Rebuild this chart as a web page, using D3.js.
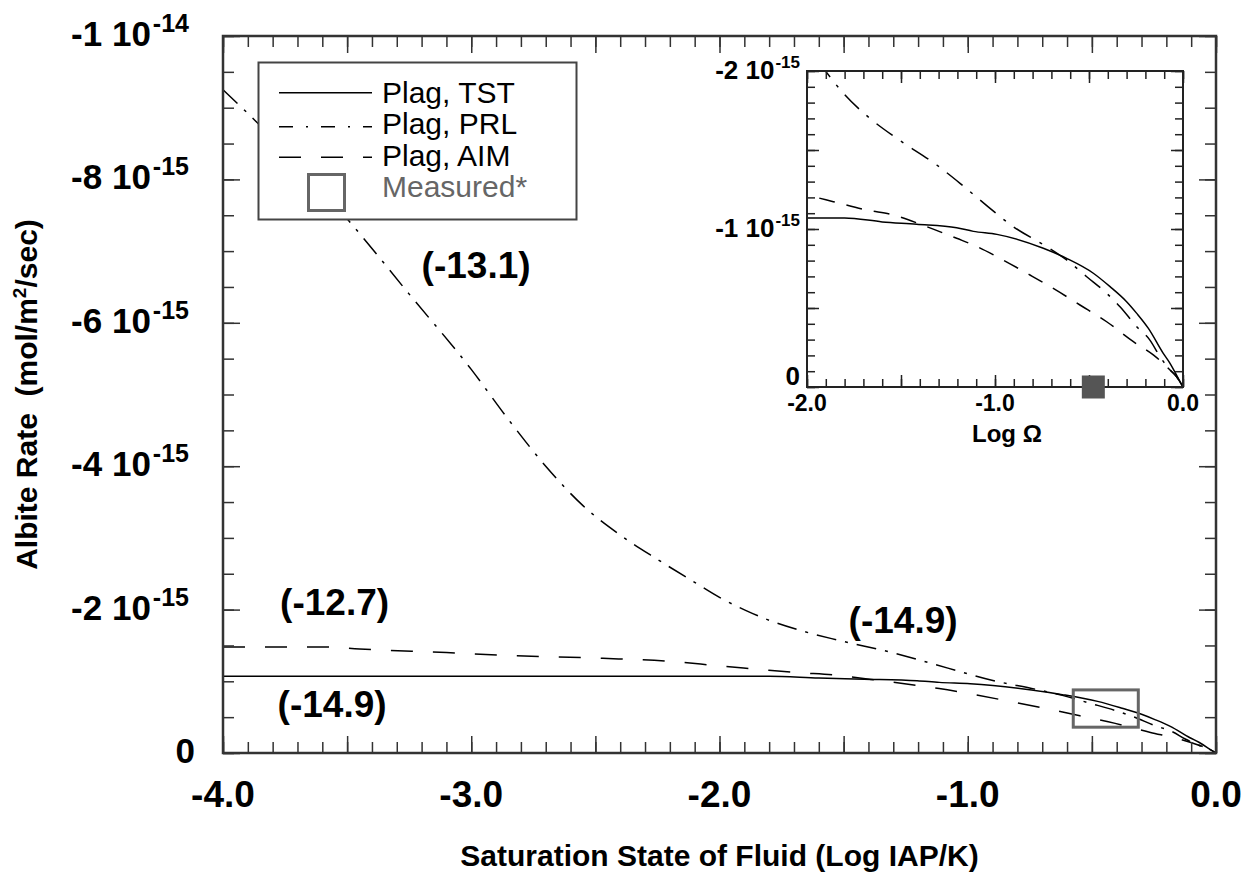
<!DOCTYPE html>
<html><head><meta charset="utf-8">
<script src="https://cdn.jsdelivr.net/npm/d3@7"></script>
<style>
html,body{margin:0;padding:0;background:#fff;}
svg{display:block;font-family:"Liberation Sans",Arial,Helvetica,sans-serif;}
</style></head>
<body><svg id="chart" width="1249" height="880"></svg>
<script>
// Rates in units of 1e-15 mol/m2/sec (negative = dissolution)
const tstX = [-4.0,-3.0,-2.0,-1.8,-1.6,-1.417,-1.204,-1.115,-0.99,-0.743,-0.619,-0.477,-0.388,-0.3,-0.246,-0.184,-0.105,-0.069,-0.016,0.0];
const tstY = [-1.07,-1.07,-1.07,-1.07,-1.045,-1.03,-1.008,-0.985,-0.966,-0.878,-0.814,-0.72,-0.635,-0.54,-0.466,-0.371,-0.213,-0.15,-0.034,0.0];

const prlX = [-4.0,-3.9,-3.75,-3.5,-3.25,-3.0,-2.85,-2.7,-2.55,-2.4,-2.25,-2.1,-2.0,-1.895,-1.807,-1.665,-1.523,-1.31,-1.186,-1.08,-0.903,-0.725,-0.619,-0.512,-0.406,-0.335,-0.246,-0.176,-0.122,-0.069,-0.034,0.0];
const prlY = [-9.25,-8.92,-8.40,-7.45,-6.40,-5.35,-4.65,-4.00,-3.45,-3.04,-2.70,-2.38,-2.17,-1.99,-1.86,-1.70,-1.574,-1.405,-1.289,-1.184,-1.015,-0.888,-0.804,-0.698,-0.593,-0.508,-0.382,-0.297,-0.192,-0.108,-0.065,0.0];

const aimX = [-4.0,-3.6,-3.45,-3.1,-2.85,-2.47,-2.21,-2.0,-1.86,-1.683,-1.541,-1.363,-1.204,-1.115,-0.973,-0.814,-0.69,-0.548,-0.406,-0.264,-0.158,-0.069,-0.034,0.0];
const aimY = [-1.48,-1.48,-1.45,-1.40,-1.36,-1.32,-1.28,-1.215,-1.173,-1.12,-1.089,-1.015,-0.941,-0.899,-0.814,-0.709,-0.624,-0.519,-0.413,-0.287,-0.203,-0.108,-0.065,0.0];

// measured range (main panel box) and measured point (inset)
const measuredX = [-0.575,-0.313];
const measuredY = [-0.88,-0.36];
const measuredPoint = {x:-0.477, y:0};

const xTickLabels = ["-4.0","-3.0","-2.0","-1.0","0.0"];
const yTickVals = [0,-2,-4,-6,-8,-10];
const yTickMant = ["0","-2 10","-4 10","-6 10","-8 10","-1 10"];
const yTickExp  = ["","-15","-15","-15","-15","-14"];
const insetYVals = [0,-1,-2];
const insetYMant = ["0","-1 10","-2 10"];
const insetYExp = ["","-15","-15"];
const insetXLabels = ["-2.0","-1.0","0.0"];

const annotations = [
  {text:"(-13.1)", x:-3.2, y:-6.62},
  {text:"(-12.7)", x:-3.77, y:-1.93},
  {text:"(-14.9)", x:-1.48, y:-1.67},
  {text:"(-14.9)", x:-3.78, y:-0.5}
];
const legendItems = [
  {label:"Plag, TST", dash:null},
  {label:"Plag, PRL", dash:"14,13,2,13"},
  {label:"Plag, AIM", dash:"22,20"},
  {label:"Measured*", dash:"box"}
];

const svg = d3.select("#chart");
const L=223, R=1216, T=36, B=753;
const x = d3.scaleLinear().domain([-4,0]).range([L,R]);
const y = d3.scaleLinear().domain([0,-10]).range([B,T]);

const series = [
  {xs:tstX, ys:tstY, dash:null, idash:null},
  {xs:prlX, ys:prlY, dash:"20,9,3,9", idash:"20,10,3,10"},
  {xs:aimX, ys:aimY, dash:"22,20", idash:"16,12"}
];

svg.append("clipPath").attr("id","mainclip").append("rect").attr("x",L).attr("y",T).attr("width",R-L).attr("height",B-T);

const line = d3.line().x(d=>x(d[0])).y(d=>y(d[1])).curve(d3.curveMonotoneX);
const gLines = svg.append("g").attr("clip-path","url(#mainclip)");
series.forEach(s=>{
  gLines.append("path").datum(s.xs.map((v,i)=>[v,s.ys[i]]))
    .attr("d",line).attr("fill","none").attr("stroke","#000").attr("stroke-width",1.5)
    .attr("stroke-dasharray",s.dash);
});
svg.append("rect").attr("x",x(measuredX[0])).attr("y",y(measuredY[0]))
  .attr("width",x(measuredX[1])-x(measuredX[0])).attr("height",y(measuredY[1])-y(measuredY[0]))
  .attr("fill","none").attr("stroke","#666").attr("stroke-width",3);

function styleAxis(g){ g.select(".domain").remove(); g.selectAll("line").attr("stroke","#333").attr("stroke-width",1.5); g.selectAll("text").remove(); }
const xMinor = d3.range(-40,1).map(d=>d/10);
const xMajor = d3.range(-8,1).map(d=>d/2);
const yMinor = d3.range(0,-10.01,-0.5);
svg.append("g").attr("transform",`translate(0,${B})`).call(d3.axisBottom(x).tickValues(xMinor).tickSize(-11)).call(styleAxis);
svg.append("g").attr("transform",`translate(0,${B})`).call(d3.axisBottom(x).tickValues(xMajor).tickSize(-17)).call(styleAxis);
svg.append("g").attr("transform",`translate(0,${T})`).call(d3.axisTop(x).tickValues(xMinor).tickSize(-11)).call(styleAxis);
svg.append("g").attr("transform",`translate(0,${T})`).call(d3.axisTop(x).tickValues(xMajor).tickSize(-17)).call(styleAxis);
svg.append("g").attr("transform",`translate(${L},0)`).call(d3.axisLeft(y).tickValues(yMinor).tickSize(-11)).call(styleAxis);
svg.append("g").attr("transform",`translate(${L},0)`).call(d3.axisLeft(y).tickValues(yTickVals).tickSize(-17)).call(styleAxis);
svg.append("g").attr("transform",`translate(${R},0)`).call(d3.axisRight(y).tickValues(yMinor).tickSize(-11)).call(styleAxis);
svg.append("g").attr("transform",`translate(${R},0)`).call(d3.axisRight(y).tickValues(yTickVals).tickSize(-17)).call(styleAxis);
svg.append("rect").attr("x",L).attr("y",T).attr("width",R-L).attr("height",B-T)
  .attr("fill","none").attr("stroke","#333").attr("stroke-width",2.5);

xTickLabels.forEach(t=>{
  svg.append("text").attr("x",x(+t)).attr("y",807).attr("text-anchor","middle")
    .attr("font-size",37).attr("font-weight","bold").text(t);
});
yTickVals.forEach((v,i)=>{
  const tx = svg.append("text").attr("x",i===0?195:189).attr("y",y(v)+10).attr("text-anchor","end")
    .attr("font-size",35).attr("font-weight","bold");
  tx.append("tspan").text(yTickMant[i]);
  if(yTickExp[i]) tx.append("tspan").attr("font-size",25).attr("dx",2).attr("dy",-14).text(yTickExp[i]);
});

svg.append("text").attr("x",(L+R)/2).attr("y",866).attr("text-anchor","middle")
  .attr("font-size",30).attr("font-weight","bold").text("Saturation State of Fluid (Log IAP/K)");
const yt = svg.append("text").attr("transform",`translate(37,${(T+B)/2}) rotate(-90)`).attr("text-anchor","middle")
  .attr("font-size",30).attr("font-weight","bold");
yt.append("tspan").text("Albite Rate\u00a0\u00a0(mol/m");
yt.append("tspan").attr("font-size",19).attr("dy",-11).text("2");
yt.append("tspan").attr("dy",11).text("/sec)");

annotations.forEach(a=>{
  svg.append("text").attr("x",x(a.x)).attr("y",y(a.y)).attr("font-size",37).attr("font-weight","bold").text(a.text);
});

const lg = svg.append("g");
lg.append("rect").attr("x",258.5).attr("y",62.5).attr("width",318).attr("height",157)
  .attr("fill","#fff").attr("stroke","#444").attr("stroke-width",2);
const rowY = [92.7,126.7,157.3,192];
const textY = [103,133.5,166,197];
legendItems.forEach((it,i)=>{
  if(it.dash==="box"){
    lg.append("rect").attr("x",308.5).attr("y",174.5).attr("width",36).attr("height",36)
      .attr("fill","none").attr("stroke","#666").attr("stroke-width",3);
  } else {
    lg.append("line").attr("x1",279).attr("x2",372).attr("y1",rowY[i]).attr("y2",rowY[i])
      .attr("stroke","#000").attr("stroke-width",1.5).attr("stroke-dasharray",it.dash);
  }
  lg.append("text").attr("x",382).attr("y",textY[i]).attr("font-size",30)
    .attr("fill",it.dash==="box"?"#666":"#000").text(it.label);
});

// inset
const IL=807, IR=1183, IT=71, IB=387;
const ix = d3.scaleLinear().domain([-2,0]).range([IL,IR]);
const iy = d3.scaleLinear().domain([0,-2]).range([IB,IT]);
const ig = svg.append("g");
ig.append("rect").attr("x",IL).attr("y",IT).attr("width",IR-IL).attr("height",IB-IT).attr("fill","#fff");
svg.append("clipPath").attr("id","insetclip").append("rect").attr("x",IL).attr("y",IT).attr("width",IR-IL).attr("height",IB-IT);
const iline = d3.line().x(d=>ix(d[0])).y(d=>iy(d[1])).curve(d3.curveMonotoneX);
const igl = ig.append("g").attr("clip-path","url(#insetclip)");
series.forEach(s=>{
  igl.append("path").datum(s.xs.map((v,i)=>[v,s.ys[i]]))
    .attr("d",iline).attr("fill","none").attr("stroke","#000").attr("stroke-width",1.5)
    .attr("stroke-dasharray",s.idash);
});
const ixMinor = d3.range(-20,1).map(d=>d/10);
const ixMajor = d3.range(-4,1).map(d=>d/2);
const iyMinor = d3.range(0,-2.01,-0.1);
const iyMajor = [0,-0.5,-1,-1.5,-2];
function styleI(g){ g.select(".domain").remove(); g.selectAll("line").attr("stroke","#222").attr("stroke-width",1.5); g.selectAll("text").remove(); }
ig.append("g").attr("transform",`translate(0,${IB})`).call(d3.axisBottom(ix).tickValues(ixMinor).tickSize(-8)).call(styleI);
ig.append("g").attr("transform",`translate(0,${IB})`).call(d3.axisBottom(ix).tickValues(ixMajor).tickSize(-12)).call(styleI);
ig.append("g").attr("transform",`translate(0,${IT})`).call(d3.axisTop(ix).tickValues(ixMinor).tickSize(-8)).call(styleI);
ig.append("g").attr("transform",`translate(0,${IT})`).call(d3.axisTop(ix).tickValues(ixMajor).tickSize(-12)).call(styleI);
ig.append("g").attr("transform",`translate(${IL},0)`).call(d3.axisLeft(iy).tickValues(iyMinor).tickSize(-8)).call(styleI);
ig.append("g").attr("transform",`translate(${IL},0)`).call(d3.axisLeft(iy).tickValues(iyMajor).tickSize(-12)).call(styleI);
ig.append("g").attr("transform",`translate(${IR},0)`).call(d3.axisRight(iy).tickValues(iyMinor).tickSize(-8)).call(styleI);
ig.append("g").attr("transform",`translate(${IR},0)`).call(d3.axisRight(iy).tickValues(iyMajor).tickSize(-12)).call(styleI);
ig.append("rect").attr("x",IL).attr("y",IT).attr("width",IR-IL).attr("height",IB-IT)
  .attr("fill","none").attr("stroke","#222").attr("stroke-width",2);
ig.append("rect").attr("x",ix(measuredPoint.x)-11.5).attr("y",iy(measuredPoint.y)-11.5)
  .attr("width",23).attr("height",23).attr("fill","#555");
insetXLabels.forEach(t=>{
  ig.append("text").attr("x",ix(+t)).attr("y",411).attr("text-anchor","middle")
    .attr("font-size",23).attr("font-weight","bold").text(t);
});
insetYVals.forEach((v,i)=>{
  const tx = ig.append("text").attr("x",800).attr("y",iy(v)+(i===0?-2:8)).attr("text-anchor","end")
    .attr("font-size",26).attr("font-weight","bold");
  tx.append("tspan").text(insetYMant[i]);
  if(insetYExp[i]) tx.append("tspan").attr("font-size",17).attr("dx",1).attr("dy",-11).text(insetYExp[i]);
});
ig.append("text").attr("x",ix(-1)).attr("dx",12).attr("y",442).attr("text-anchor","middle")
  .attr("font-size",24).attr("font-weight","bold").text("Log Ω");
</script></body></html>
